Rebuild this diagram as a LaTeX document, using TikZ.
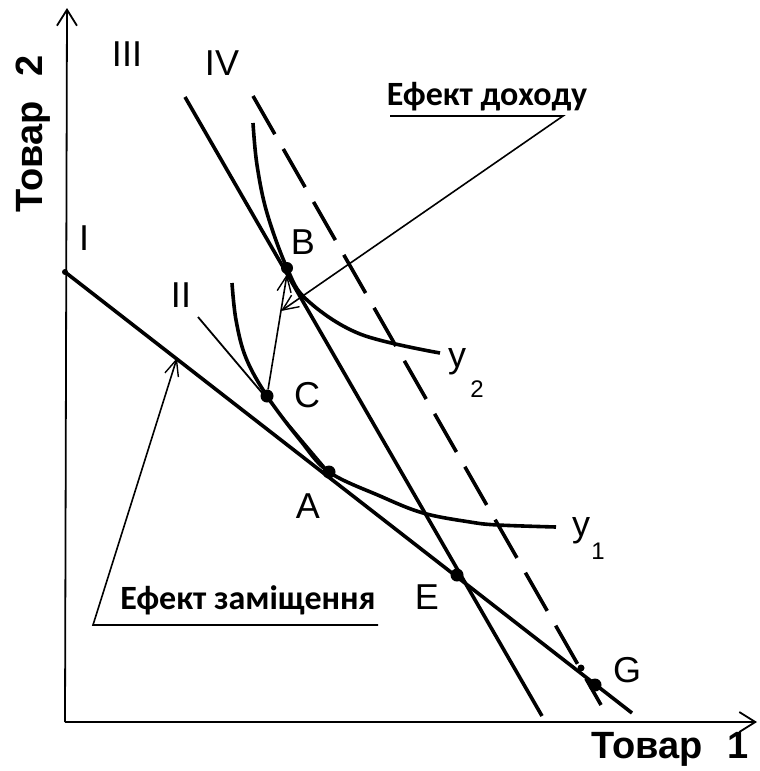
\documentclass[tikz,border=0pt]{standalone}
\usepackage{fontspec}
\setmainfont{Liberation Sans}
\newfontfamily\effont{Carlito}
\usetikzlibrary{arrows.meta}
\begin{document}
\begin{tikzpicture}[x=1pt,y=-1pt,
  thick line/.style={line width=3.6pt},
  thin line/.style={line width=1.8pt},
  axis/.style={line width=1.8pt,-{Straight Barb[length=16pt,width=20pt,line width=1.8pt]}},
  eff arrow/.style={line width=1.6pt,-{Straight Barb[length=16pt,width=14pt,line width=1.4pt]}},
  lbl/.style={inner sep=0pt,font=\fontsize{36}{36}\selectfont},
  sublbl/.style={inner sep=0pt,font=\fontsize{24}{24}\selectfont},
  axlbl/.style={inner sep=0pt,font=\fontsize{38}{38}\selectfont\bfseries},
  efflbl/.style={inner sep=0pt,font=\fontsize{34}{34}\selectfont\effont\bfseries},
  bigdot/.style={circle,fill=black,inner sep=0pt,minimum size=13pt},
  smalldot/.style={circle,fill=black,inner sep=0pt,minimum size=7pt}]
\useasboundingbox (0,0) rectangle (760,771);
% axes
\coordinate (O) at (65,722);
\coordinate (Ytop) at (67,8);
\coordinate (Xend) at (757,722);
\draw[axis] (O) -- (Ytop);
\draw[axis] (O) -- (Xend);
\node[axlbl,rotate=90] (t2) at (33,134) {Товар\hspace{24pt}2};
\node[axlbl] (t1) at (670,749) {Товар\hspace{24pt}1};
% budget lines
\coordinate (I0) at (65,272);
\coordinate (I1) at (632,713);
\draw[thick line] (I0) -- (I1);
\node[smalldot,minimum size=6pt] (i0dot) at (I0) {};
\coordinate (IV0) at (185,97);
\coordinate (IV1) at (542,716);
\draw[thick line] (IV0) -- (IV1);
\coordinate (D0) at (253,96);
\coordinate (D1) at (601,705);
\draw[thick line,dash pattern=on 44pt off 17pt] (D0) -- (D1);
\coordinate (II0) at (198,317);
\coordinate (Apt) at (329,472);
\draw[thin line] (II0) -- (Apt);
% indifference curves
\draw[thick line] plot[smooth,tension=0.6] coordinates {(232,283) (236,320) (246,358) (267,396) (300,440) (329,472) (380,496) (423,513) (470,522) (498,525) (556,527)};
\draw[thick line] plot[smooth,tension=0.6] coordinates {(253,123) (257,165) (267,213) (287,268) (307,300) (360,334) (440,353)};
% points
\node[bigdot,minimum size=12pt] (B) at (287,268) {};
\node[bigdot] (C) at (267,396) {};
\node[bigdot] (A) at (Apt) {};
\node[bigdot] (E) at (457,575) {};
\node[bigdot] (G) at (595,685) {};
\node[smalldot] (g0) at (581,668) {};
% arrow C -> B
\draw[eff arrow] (C) -- (B.south);
% income effect
\coordinate (ie1) at (390,116);
\coordinate (ie2) at (563,116);
\coordinate (ie3) at (281,311);
\draw[eff arrow] (ie1) -- (ie2) -- (ie3);
\node[efflbl] (inc) at (487,97) {Ефект доходу};
% substitution effect
\coordinate (se1) at (378,625);
\coordinate (se2) at (93,625);
\coordinate (se3) at (177,358);
\draw[eff arrow] (se1) -- (se2) -- (se3);
\node[efflbl] (sub) at (248,600) {Ефект заміщення};
% labels
\node[lbl] (lIII) at (127,54) {III};
\node[lbl] (lIV) at (222,63) {IV};
\node[lbl] (lI) at (84,238) {I};
\node[lbl] (lII) at (181,295) {II};
\node[lbl] (lB) at (303,242) {B};
\node[lbl] (lC) at (307,395) {C};
\node[lbl] (lA) at (308,506) {A};
\node[lbl] (lE) at (427,597) {E};
\node[lbl] (lG) at (627,670) {G};
\node[lbl] (ly2) at (457,362) {y};
\node[sublbl] (ly2s) at (477,389) {2};
\node[lbl] (ly1) at (581,531) {y};
\node[sublbl] (ly1s) at (598,551) {1};
\end{tikzpicture}
\end{document}
